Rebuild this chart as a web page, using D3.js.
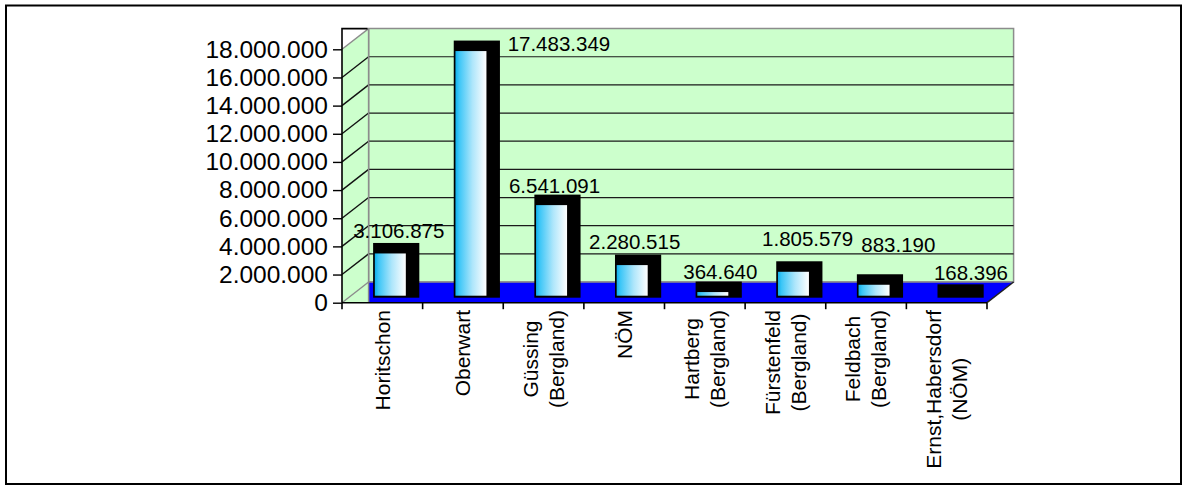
<!DOCTYPE html>
<html><head><meta charset="utf-8">
<script src="https://cdn.jsdelivr.net/npm/d3@7"></script>
<style>
body{margin:0;background:#fff}
svg{display:block}
text{font-family:"Liberation Sans", Arial, sans-serif; fill:#000}
</style>
</head><body>
<svg id="c" width="1189" height="492"></svg>
<script>
// ---- data ----
const categories = ["Horitschon","Oberwart","Güssing\n(Bergland)","NÖM","Hartberg\n(Bergland)","Fürstenfeld\n(Bergland)","Feldbach\n(Bergland)","Ernst,Habersdorf\n(NÖM)"];
const values = [3106875,17483349,6541091,2280515,364640,1805579,883190,168396];
const tickValues = [0,2000000,4000000,6000000,8000000,10000000,12000000,14000000,16000000,18000000];
const tickLabels = ["0","2.000.000","4.000.000","6.000.000","8.000.000","10.000.000","12.000.000","14.000.000","16.000.000","18.000.000"];
// layout nudges of the data labels (as placed in the original)
const labelNudgeX = [1,80.5,-4.5,-5,0,6.7,16.8,8.8];
const labelNudgeY = [-1,14.7,2.4,-2,1.6,-11,-18.3,0];

const fmt = d3.formatLocale({decimal:",",thousands:".",grouping:[3],currency:["","€"]}).format(",d");

// ---- geometry ----
const L=342, R=987, B=302.7, T=49.3;
const DX=26.6, DY=-20.7;
const svg = d3.select("#c");

const x = d3.scaleBand().domain(categories).range([L,R]).paddingInner(0).paddingOuter(0);
const y = d3.scaleLinear().domain([0,18000000]).range([B,T]);
const bw = x.bandwidth();
const yMax = y.domain()[1];

// outer frame
svg.append("rect").attr("x",6).attr("y",5.5).attr("width",1175).attr("height",478.5)
  .attr("fill","none").attr("stroke","#000").attr("stroke-width",2);

const wallFill = "#ccffcc", grey="#8c8c8c";

// back wall
svg.append("polygon")
  .attr("points",[[L+DX,y(yMax)+DY],[R+DX,y(yMax)+DY],[R+DX,y(0)+DY],[L+DX,y(0)+DY]].map(p=>p.join(",")).join(" "))
  .attr("fill",wallFill).attr("stroke",grey).attr("stroke-width",1.5);

// back wall gridlines
svg.append("g").selectAll("line").data(tickValues.filter(v=>v>0 && v<yMax)).join("line")
  .attr("x1",L+DX).attr("x2",R+DX).attr("y1",d=>y(d)+DY).attr("y2",d=>y(d)+DY)
  .attr("stroke","#1a1a1a").attr("stroke-width",1.2);

// floor
svg.append("polygon")
  .attr("points",[[L+DX,y(0)+DY],[R+DX,y(0)+DY],[R,B],[L+DX,B]].map(p=>p.join(",")).join(" "))
  .attr("fill","#0000ff");
svg.append("line").attr("x1",L+DX).attr("x2",R+DX).attr("y1",y(0)+DY).attr("y2",y(0)+DY)
  .attr("stroke",grey).attr("stroke-width",1.5);
svg.append("line").attr("x1",R+DX).attr("y1",y(0)+DY).attr("x2",R).attr("y2",B)
  .attr("stroke","#222").attr("stroke-width",1.5);

// left wall
svg.append("polygon")
  .attr("points",[[L,B],[L,y(yMax)],[L+DX,y(yMax)+DY],[L+DX,B]].map(p=>p.join(",")).join(" "))
  .attr("fill",wallFill);
svg.append("g").selectAll("line").data(tickValues).join("line")
  .attr("x1",L).attr("y1",d=>y(d)).attr("x2",L+DX).attr("y2",d=>y(d)+DY)
  .attr("stroke",d=>(d===0||d===yMax)?grey:"#111").attr("stroke-width",1.4);
svg.append("line").attr("x1",L+DX).attr("x2",L+DX).attr("y1",y(yMax)+DY).attr("y2",B)
  .attr("stroke",grey).attr("stroke-width",1.5);
// wall frame (black)
svg.append("path").attr("d",`M${L+DX-1},${y(yMax)+DY}H${L}V${B}`)
  .attr("fill","none").attr("stroke","#000").attr("stroke-width",1.6);

// gradient
const defs = svg.append("defs");
const grad = defs.append("linearGradient").attr("id","barGrad").attr("x1","0").attr("x2","1").attr("y1","0").attr("y2","0");
grad.append("stop").attr("offset","0").attr("stop-color","#0fb0ec");
grad.append("stop").attr("offset","0.12").attr("stop-color","#3cc6f7");
grad.append("stop").attr("offset","0.55").attr("stop-color","#aee6fb");
grad.append("stop").attr("offset","1").attr("stop-color","#ffffff");

// bars
const FW = 31, OFF = 8, BARDY = 5.5, TOPD = 10.5, SIDE = 13.5;
const base = y(0) - BARDY;
const bars = svg.append("g").selectAll("g").data(categories.map((c,i)=>({c, v:values[i], i}))).join("g");
const fx = d => x(d.c) + bw/2 + OFF - FW/2;
const ft = d => y(d.v) - BARDY;
bars.append("rect")
  .attr("x",d=>fx(d)-1.7).attr("y",d=>ft(d)-TOPD)
  .attr("width",FW+1.7+SIDE).attr("height",d=>base+0.5-(ft(d)-TOPD))
  .attr("fill","#000");
bars.append("rect")
  .attr("x",d=>fx(d)).attr("y",d=>ft(d))
  .attr("width",FW).attr("height",d=>{const h=base-1.5-ft(d); return h>1.5?h:0;})
  .attr("fill","url(#barGrad)");

// data labels
svg.append("g").selectAll("text").data(categories.map((c,i)=>({c, v:values[i], i}))).join("text")
  .attr("x",d=>fx(d)+FW/2+7.5+labelNudgeX[d.i])
  .attr("y",d=>ft(d)-TOPD-4+labelNudgeY[d.i])
  .attr("text-anchor","middle").style("font-size","20.5px")
  .text(d=>fmt(d.v));

// x axis line and ticks
svg.append("line").attr("x1",L).attr("x2",R).attr("y1",B).attr("y2",B)
  .attr("stroke","#000").attr("stroke-width",1.6);
svg.append("g").selectAll("line").data(categories.map(c=>x(c)).concat([x(categories[categories.length-1])+bw])).join("line")
  .attr("x1",d=>d).attr("x2",d=>d).attr("y1",B).attr("y2",B+6.5)
  .attr("stroke","#000").attr("stroke-width",1.6);

// y axis
const yAxis = d3.axisLeft(y).tickValues(tickValues).tickSize(9).tickPadding(5)
  .tickFormat((d,i)=>tickLabels[i]);
const ya = svg.append("g").attr("transform",`translate(${L},0)`).call(yAxis);
ya.select(".domain").remove();
ya.selectAll(".tick line").attr("stroke","#000").attr("stroke-width",1.4);
ya.selectAll(".tick text").attr("font-family",null).style("font-size","24.5px").attr("fill","#000");

// category labels
const LH = 26, CTOP = 310;
const cg = svg.append("g").selectAll("g").data(categories).join("g")
  .attr("transform",c=>`translate(${x(c)+bw/2},${CTOP}) rotate(-90)`);
cg.each(function(c){
  const g = d3.select(this);
  const lines = c.split("\n");
  const n = lines.length;
  const ts = lines.map((ln,i)=> g.append("text").attr("y",(i-(n-1)/2)*LH).attr("dy","0.35em")
      .attr("text-anchor","middle").style("font-size","21px").text(ln));
  const maxLen = d3.max(ts, t=>t.node().getComputedTextLength());
  ts.forEach(t=>t.attr("x",-maxLen/2));
});
</script>
</body></html>
